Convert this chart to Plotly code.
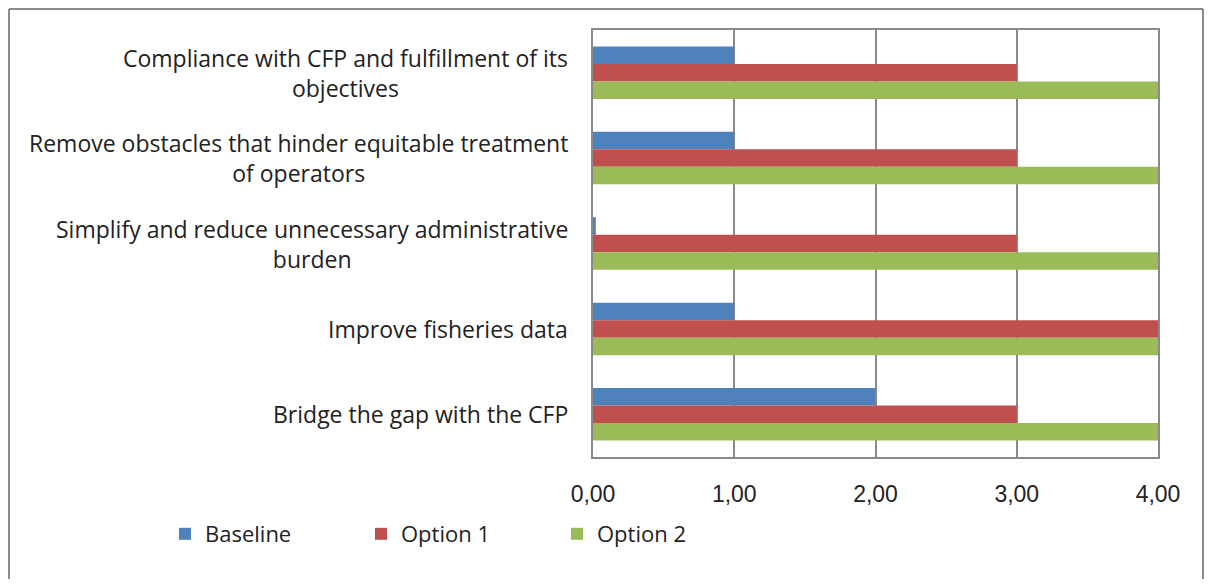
import plotly.graph_objects as go


###############################################################################
# data

categories = [
    "Compliance with CFP and fulfillment of its<br>objectives",
    "Remove obstacles that hinder equitable treatment<br>of operators",
    "Simplify and reduce unnecessary administrative<br>burden",
    "Improve fisheries data",
    "Bridge the gap with the CFP",
]

baseline = [1, 1, 0.02, 1, 2]
option_1 = [3, 3, 3, 4, 3]
option_2 = [4, 4, 4, 4, 4]

series_names = ["Baseline", "Option 1", "Option 2"]
series_colors = ["#4F81BD", "#C0504D", "#9BBB59"]

tick_vals = [0, 1, 2, 3, 4]


###############################################################################
# figure  (page has an 8px body margin, so the figure is a bit smaller)

W, H = 1196, 571
L, R, T, B = 585, 46, 22, 122
pw, ph = W - L - R, H - T - B


def px_x(x):
    return (x - L) / pw


def px_y(y):
    return (H - B - y) / ph


fig = go.Figure()

for name, vals, col in zip(series_names, [baseline, option_1, option_2], series_colors):
    fig.add_trace(go.Bar(
        y=categories,
        x=vals,
        name=name,
        orientation="h",
        marker=dict(color=col, line=dict(width=0)),
    ))

fig.update_layout(
    width=W,
    height=H,
    margin=dict(l=L, r=R, t=T, b=B, pad=0),
    paper_bgcolor="white",
    plot_bgcolor="white",
    barmode="group",
    bargap=0.385,
    bargroupgap=0,
    separators=",.",
    font=dict(family="Open Sans", size=23, color="#222222"),
    legend=dict(
        orientation="h",
        x=px_x(157),
        xref="paper",
        y=px_y(526),
        yanchor="middle",
        bgcolor="rgba(0,0,0,0)",
        font=dict(family="Open Sans", size=22, color="#222222"),
        entrywidth=151,
        itemclick=False,
    ),
    showlegend=True,
)

fig.update_xaxes(
    range=[0, 4],
    tickvals=tick_vals,
    tickformat=".2f",
    showgrid=True,
    gridcolor="#8a8a8a",
    gridwidth=1.5,
    showline=True,
    linecolor="#8a8a8a",
    linewidth=1.5,
    mirror=True,
    zeroline=False,
    ticks="",
    ticklabelstandoff=16,
    tickfont=dict(family="Liberation Sans", size=23, color="#222222"),
)

fig.update_yaxes(
    autorange="reversed",
    showticklabels=False,
    showgrid=False,
    showline=True,
    linecolor="#8a8a8a",
    linewidth=1.5,
    mirror=True,
    ticks="",
)

# category labels, centred lines like the original
for c in categories:
    fig.add_annotation(
        x=0, xref="paper", y=c, yref="y",
        text=c, showarrow=False,
        xanchor="right", xshift=-23, align="center",
        font=dict(family="Open Sans", size=23, color="#222222"),
    )

# outer chart frame (left, top, right edges)
frame = dict(type="line", xref="paper", yref="paper",
             line=dict(color="#8a8a8a", width=2))
fig.add_shape(x0=px_x(1), x1=px_x(1), y0=px_y(H), y1=px_y(1), **frame)
fig.add_shape(x0=px_x(1), x1=px_x(W - 1), y0=px_y(1), y1=px_y(1), **frame)
fig.add_shape(x0=px_x(W - 1), x1=px_x(W - 1), y0=px_y(H), y1=px_y(1), **frame)

fig.write_html("out.html")
